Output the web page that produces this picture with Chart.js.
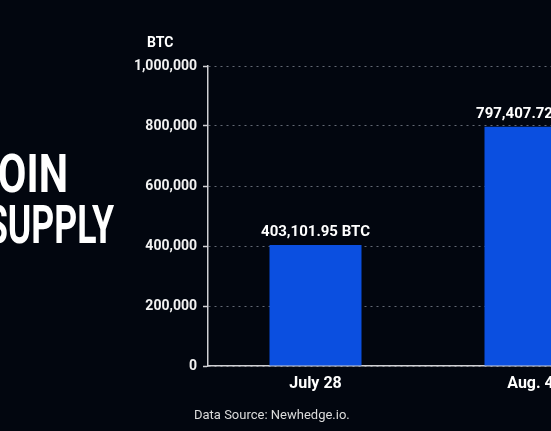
<!DOCTYPE html>
<html>
<head>
<meta charset="utf-8">
<script src="https://cdn.jsdelivr.net/npm/chart.js@4.4.1/dist/chart.umd.min.js"></script>
<style>
  html, body { margin: 0; padding: 0; background: #02060f; overflow: hidden; width: 551px; height: 431px; }
  #wrap { position: absolute; left: 0; top: 0; width: 700px; height: 431px; }
</style>
</head>
<body>
<div id="wrap"><canvas id="c" width="700" height="431"></canvas></div>
<script>
const categories = ["July 28", "Aug. 4"];
const btcValues = [403101.95, 797407.72];
const valueLabels = ["403,101.95 BTC", "797,407.72 BTC"];
const yTicks = [0, 200000, 400000, 600000, 800000, 1000000];
const unitLabel = "BTC";
const titleLines = ["BITCOIN", "SUPPLY"];
const sourceText = "Data Source: Newhedge.io.";

const BG = '#02060f';
const BAR = '#0b4fe0';
const AXIS = '#d0d0d4';

const overlay = {
  id: 'overlay',
  beforeDraw(chart) {
    const ctx = chart.ctx;
    ctx.save();
    ctx.fillStyle = BG;
    ctx.fillRect(0, 0, chart.width, chart.height);
    ctx.restore();
  },
  afterDraw(chart) {
    const ctx = chart.ctx;
    ctx.save();
    // value labels
    ctx.fillStyle = '#ffffff';
    ctx.font = 'bold 15px Roboto';
    ctx.textAlign = 'center';
    ctx.textBaseline = 'alphabetic';
    chart.getDatasetMeta(0).data.forEach((bar, i) => {
      ctx.fillText(valueLabels[i], bar.x, bar.y - 9);
    });
    // unit label
    ctx.font = 'bold 14px Roboto';
    ctx.textAlign = 'left';
    ctx.fillText(unitLabel, 147, 47);
    // source
    ctx.font = '13px Roboto';
    ctx.fillStyle = '#dcdcdc';
    ctx.textBaseline = 'middle';
    ctx.fillText(sourceText, 194, 416);
    // big title (cropped on the left)
    ctx.fillStyle = '#ffffff';
    ctx.textBaseline = 'alphabetic';
    ctx.textAlign = 'right';
    ctx.font = 'bold 54px Roboto';
    const sx1 = 0.77, sx2 = 0.66;
    ctx.save();
    ctx.scale(sx1, 1);
    ctx.fillText(titleLines[0], 68 / sx1, 192);
    ctx.restore();
    ctx.save();
    ctx.scale(sx2, 1);
    ctx.fillText(titleLines[1], 114 / sx2, 243);
    ctx.restore();
    ctx.restore();
  }
};

new Chart(document.getElementById('c'), {
  type: 'bar',
  data: {
    labels: categories,
    datasets: [{
      data: btcValues,
      backgroundColor: BAR,
      borderWidth: 0,
      barPercentage: 0.428,
      categoryPercentage: 1.0
    }]
  },
  options: {
    responsive: false,
    animation: false,
    devicePixelRatio: 1,
    layout: { padding: { top: 66, right: 62, bottom: 0, left: 0 } },
    plugins: { legend: { display: false }, tooltip: { enabled: false } },
    scales: {
      x: {
        afterFit(scale) { scale.height = 65; },
        grid: { display: false, drawTicks: false },
        border: { color: AXIS, width: 1.5 },
        ticks: { color: '#ffffff', font: { family: 'Roboto', size: 16, weight: 'bold' }, padding: 8 }
      },
      y: {
        min: 0,
        max: 1000000,
        afterFit(scale) { scale.width = 208; },
        afterBuildTicks(scale) { scale.ticks = yTicks.map(v => ({ value: v })); },
        grid: {
          color: 'rgba(150,156,170,0.65)',
          lineWidth: 1,
          tickColor: AXIS,
          tickLength: 5,
          tickWidth: 1.5,
          tickBorderDash: []
        },
        border: { color: AXIS, width: 1.5, dash: [2, 4] },
        ticks: {
          color: '#f2f2f2',
          padding: 6,
          font: { family: 'Roboto', size: 14, weight: 'bold' },
          callback: v => v.toLocaleString('en-US')
        }
      }
    }
  },
  plugins: [overlay]
});
</script>
</body>
</html>
